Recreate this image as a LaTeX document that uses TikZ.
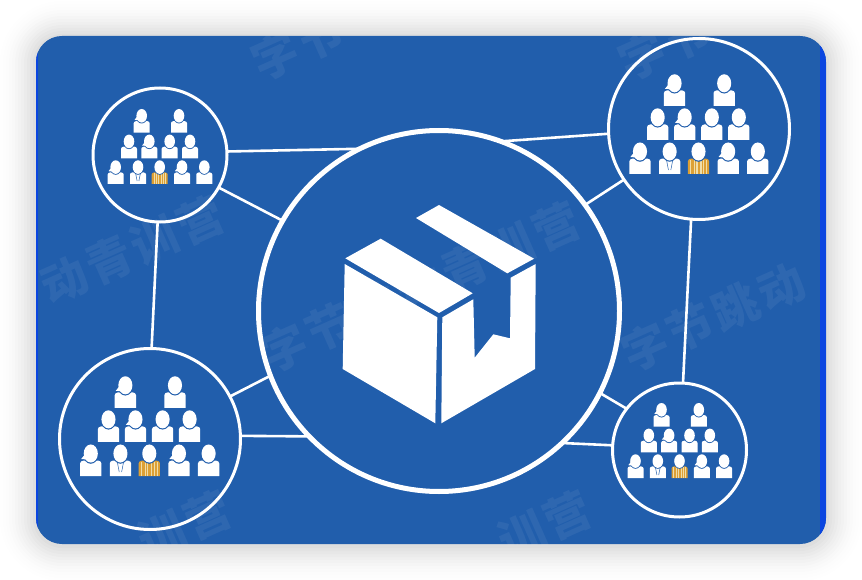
\documentclass[tikz,border=0pt]{standalone}
\usepackage{fontspec}
\usepackage{tikz}
\newfontfamily\cjk[LetterSpace=8]{Noto Sans CJK SC}
\definecolor{Panel}{HTML}{215EAC}
\definecolor{Edge}{HTML}{0B46E0}
\definecolor{Gold}{HTML}{DDA035}
\definecolor{Pale}{HTML}{F0DDA8}
\tikzset{
  hubring/.style={circle, draw=white, line width=5pt, minimum size=361pt, inner sep=0pt, outer sep=0pt},
  smallring/.style={circle, draw=white, line width=3pt, minimum size=134pt, inner sep=0pt, outer sep=0pt},
  bigring/.style={circle, draw=white, line width=3pt, minimum size=181pt, inner sep=0pt, outer sep=0pt},
  link/.style={draw=white, line width=2.6pt},
  watermark/.style={rotate=24, text=white, text opacity=0.06, font=\cjk\bfseries\fontsize{46}{46}\selectfont, inner sep=0pt}
}
% One figure, origin at the bottom middle of its body
\newcommand{\torso}[3]{\fill[#3, shift={(#1,#2)}] (-8,0) -- (-8,-9.5) .. controls (-8,-10.8) and (-7,-11.2) .. (-5.5,-11.6) -- (5.5,-11.6) .. controls (7,-11.2) and (8,-10.8) .. (8,-9.5) -- (8,0) -- cycle;}
\newcommand{\head}[2]{
  \fill[Panel, shift={(#1,#2)}] (0,-16.6) ellipse (5.9 and 7.4);
  \fill[white, shift={(#1,#2)}] (0,-16.9) ellipse (5.3 and 6.8);}
\newcommand{\manicon}[2]{\torso{#1}{#2}{white}\head{#1}{#2}}
\newcommand{\womanicon}[2]{\manicon{#1}{#2}
  \fill[white, shift={(#1,#2)}] (-4.6,-16) -- (-7.2,-12.8) -- (-1,-12.2) -- cycle;}
\newcommand{\suiticon}[2]{\manicon{#1}{#2}
  \draw[Panel, line width=0.5pt, shift={(#1,#2)}] (-2.4,-10.8) -- (-0.9,-3) (2.4,-10.8) -- (0.9,-3);}
\newcommand{\barcodeicon}[2]{\torso{#1}{#2}{Gold}
  \foreach \sx in {-6.2,-3.6,-1.6,1.4,3.2,5.6}
    \fill[Pale, shift={(#1,#2)}] (\sx,-10.8) rectangle (\sx+0.9,0);
  \head{#1}{#2}}
% Rows from the top down
\newcommand{\crowd}[3]{
  \begin{scope}[shift={(#1,#2)}, scale=#3]
    \womanicon{-18}{-51.3}
    \manicon{19.3}{-51.3}
    \manicon{-30.7}{-25.7}
    \womanicon{-10.4}{-25.7}
    \manicon{10}{-25.7}
    \manicon{30.3}{-25.7}
    \womanicon{-44}{0}
    \suiticon{-21.7}{0}
    \barcodeicon{0}{0}
    \womanicon{22.3}{0}
    \manicon{44.6}{0}
  \end{scope}}

\begin{document}
\begin{tikzpicture}[x=1pt, y=-1pt]
  \useasboundingbox (0,0) rectangle (862,580);
  % Shadow
  \foreach \s in {3,6,...,39}
    \fill[black, opacity={0.00048*(42-\s)}, rounded corners={26pt+\s*1pt}] (36-\s,36-\s+1) rectangle (826+\s,544+\s+1);
  % Panel
  \fill[Panel, rounded corners=26pt] (36,36) rectangle (826,544);
  \begin{scope}
    \clip[rounded corners=26pt] (36,36) rectangle (826,544);
    \fill[Edge] (820,36) rectangle (826,544);
    \fill[Edge] (36,36) rectangle (37.5,544);
    % Faint text across the panel
    \node[watermark] (marktopa) at (298,46) {字节};
    \node[watermark] (marktopb) at (665,46) {字节};
    \node[watermark] (markleft) at (132,250) {动青训营};
    \node[watermark] (markmid) at (420,287) {字节跳动青训营};
    \node[watermark] (markright) at (713,317) {字节跳动};
    \node[watermark] (marklowa) at (185,525) {训营};
    \node[watermark] (marklowb) at (545,525) {训营};
  \end{scope}
  % Rings
  \node[hubring] (hub) at (439,311) {};
  \node[smallring] (topleft) at (160,155) {};
  \node[bigring] (topright) at (699,129) {};
  \node[bigring] (botleft) at (150,439) {};
  \node[smallring] (botright) at (679.5,450) {};
  % Links
  \draw[link] (topleft.3) -- (hub.116);
  \draw[link] (topleft.-29) -- (hub.150);
  \draw[link] (topright.183) -- (hub.70);
  \draw[link] (topright.214) -- (hub.36.4);
  \draw[link] (botleft.28.8) -- (hub.201);
  \draw[link] (botleft.2) -- (hub.224);
  \draw[link] (botright.142) -- (hub.-27);
  \draw[link] (botright.176.6) -- (hub.-47);
  \draw[link] (topleft.-92) -- (botleft.89);
  \draw[link] (topright.-95) -- (botright.87);
  % Box
  \fill[white] (344.7,264) -- (437.3,317.3) -- (435.3,423.3) -- (342.7,369) -- cycle;
  \fill[white] (345.3,258.3) -- (380.7,238.7) -- (472.7,293.3) -- (439,313) -- cycle;
  \fill[white] (416,218) -- (439,205) -- (534,258.7) -- (507.3,273.3) -- cycle;
  \fill[white] (442.3,317.3) -- (473.3,299.3) -- (474.7,357.7) -- (493.3,334.3) -- (510,338.3) -- (510.7,277.7) -- (535.7,264) -- (535,369) -- (441.3,423.3) -- cycle;
  % Figures
  \crowd{159.7}{184}{1}
  \crowd{149.3}{476}{1.33}
  \crowd{698.5}{174}{1.33}
  \crowd{679.5}{478}{1}
\end{tikzpicture}
\end{document}
